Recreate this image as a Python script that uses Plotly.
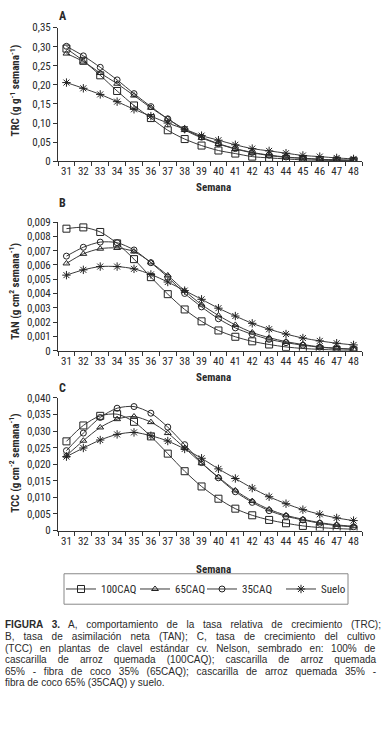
import plotly.graph_objects as go

weeks = [str(w) for w in range(31, 49)]
series_names = ["100CAQ", "65CAQ", "35CAQ", "Suelo"]

trc_100 = [0.295, 0.263, 0.225, 0.184, 0.146, 0.113, 0.081, 0.058, 0.041, 0.028, 0.020, 0.012, 0.0086, 0.006, 0.0034, 0.0026, 0.0017, 0.001]
trc_65 = [0.282, 0.261, 0.231, 0.203, 0.172, 0.140, 0.111, 0.082, 0.061, 0.045, 0.032, 0.022, 0.015, 0.010, 0.0077, 0.005, 0.0034, 0.0026]
trc_35 = [0.301, 0.276, 0.246, 0.213, 0.177, 0.143, 0.111, 0.084, 0.063, 0.046, 0.033, 0.023, 0.016, 0.011, 0.0077, 0.005, 0.0034, 0.0026]
trc_suelo = [0.206, 0.191, 0.175, 0.156, 0.136, 0.118, 0.100, 0.084, 0.067, 0.055, 0.043, 0.033, 0.027, 0.021, 0.015, 0.012, 0.0086, 0.006]

tan_100 = [0.00854, 0.00863, 0.00831, 0.00751, 0.00641, 0.00515, 0.00396, 0.00289, 0.00206, 0.00142, 0.00098, 0.00066, 0.00044, 0.00027, 0.00016, 0.0001, 0.00005, 0.00003]
tan_65 = [0.00611, 0.00678, 0.00714, 0.00719, 0.00694, 0.00618, 0.00527, 0.00419, 0.00323, 0.00247, 0.00181, 0.00128, 0.00092, 0.00064, 0.00044, 0.00027, 0.00018, 0.00011]
tan_35 = [0.00662, 0.00724, 0.0076, 0.00756, 0.00705, 0.00616, 0.00515, 0.00401, 0.00307, 0.00224, 0.0016, 0.00115, 0.0008, 0.00057, 0.00039, 0.00025, 0.00016, 0.00011]
tan_suelo = [0.00529, 0.00566, 0.00589, 0.00589, 0.00573, 0.00534, 0.00481, 0.00421, 0.0036, 0.00298, 0.00243, 0.00192, 0.00151, 0.00117, 0.00089, 0.00069, 0.00053, 0.00041]

tcc_100 = [0.0269, 0.0317, 0.0346, 0.0351, 0.0328, 0.0284, 0.0232, 0.0179, 0.0133, 0.0096, 0.0066, 0.0046, 0.0032, 0.0022, 0.0014, 0.0009, 0.0006, 0.0004]
tcc_65 = [0.0226, 0.0271, 0.0311, 0.0336, 0.0344, 0.0327, 0.0294, 0.0249, 0.0203, 0.0161, 0.0121, 0.0089, 0.0064, 0.0046, 0.0034, 0.0024, 0.0017, 0.0013]
tcc_35 = [0.0241, 0.0294, 0.0341, 0.0369, 0.0374, 0.0354, 0.0312, 0.0259, 0.0205, 0.0159, 0.0117, 0.0085, 0.006, 0.0043, 0.0032, 0.0022, 0.0015, 0.0011]
tcc_suelo = [0.0223, 0.0249, 0.0273, 0.029, 0.0296, 0.0286, 0.027, 0.0246, 0.0218, 0.0186, 0.0157, 0.0128, 0.0102, 0.0081, 0.0063, 0.0049, 0.0038, 0.003]

trc_ticks = [0, 0.05, 0.10, 0.15, 0.20, 0.25, 0.30, 0.35]
trc_ticktext = ["0", "0,05", "0,10", "0,15", "0,20", "0,25", "0,30", "0,35"]
tan_ticks = [0, 0.001, 0.002, 0.003, 0.004, 0.005, 0.006, 0.007, 0.008, 0.009]
tan_ticktext = ["0", "0,001", "0,002", "0,003", "0,004", "0,005", "0,006", "0,007", "0,008", "0,009"]
tcc_ticks = [0, 0.005, 0.010, 0.015, 0.020, 0.025, 0.030, 0.035, 0.040]
tcc_ticktext = ["0", "0,005", "0,010", "0,015", "0,020", "0,025", "0,030", "0,035", "0,040"]

caption_bold = "FIGURA 3."
caption_lines = [
    " A, comportamiento de la tasa relativa de crecimiento (TRC);",
    "B, tasa de asimilación neta (TAN); C, tasa de crecimiento del cultivo",
    "(TCC) en plantas de clavel estándar cv. Nelson, sembrado en: 100% de",
    "cascarilla de arroz quemada (100CAQ); cascarilla de arroz quemada",
    "65% - fibra de coco 35% (65CAQ); cascarilla de arroz quemada 35% -",
    "fibra de coco 65% (35CAQ) y suelo.",
]

W, H = 388, 734
FONT = "Liberation Sans Narrow, Arial Narrow, Roboto Condensed, Liberation Sans, sans-serif"
CAPFONT = "Liberation Sans, Arial, Helvetica, sans-serif"
TXT = "#2a2a2a"

markers = {
    "100CAQ": dict(symbol="square-open", size=7),
    "65CAQ": dict(symbol="triangle-up-open", size=6),
    "35CAQ": dict(symbol="circle-open", size=6),
    "Suelo": dict(symbol="asterisk-open", size=7),
}
legend_w = {"100CAQ": 29, "65CAQ": 22, "35CAQ": 34, "Suelo": 24}

panels = [
    (dict(zip(series_names, [trc_100, trc_65, trc_35, trc_suelo])), (22, 158), 0.35, trc_ticks, trc_ticktext),
    (dict(zip(series_names, [tan_100, tan_65, tan_35, tan_suelo])), (220, 351), 0.009, tan_ticks, tan_ticktext),
    (dict(zip(series_names, [tcc_100, tcc_65, tcc_35, tcc_suelo])), (399, 534), 0.040, tcc_ticks, tcc_ticktext),
]

fig = go.Figure()
layout = {}
x0, x1 = 58 / W, 362 / W

for i, (data, (ytop, ybot), ymax, tv, tt) in enumerate(panels):
    n = "" if i == 0 else str(i + 1)
    for name in series_names:
        fig.add_trace(go.Scatter(
            x=weeks, y=data[name], name=name, mode="lines+markers",
            xaxis="x" + n, yaxis="y" + n,
            line=dict(color="#3a3a3a", width=1, shape="spline", smoothing=0.8),
            marker=dict(color="#222", line=dict(color="#222", width=1), **markers[name]),
            showlegend=(i == 2), legendrank=series_names.index(name),
            legendwidth=legend_w[name],
        ))
    layout["xaxis" + n] = dict(
        domain=[x0, x1], anchor="y" + n, type="category", range=[-0.5, 17.5],
        tickson="boundaries", ticks="outside", ticklen=4, tickcolor="#333", tickangle=0,
        showline=True, linecolor="#333", linewidth=1, showgrid=False, zeroline=False,
        tickfont=dict(family=FONT, size=11, color=TXT),
    )
    layout["yaxis" + n] = dict(
        domain=[(H - ybot) / H, (H - ytop) / H], anchor="x" + n, range=[0, ymax],
        tickvals=tv, ticktext=tt, ticks="outside", ticklen=4, tickcolor="#333",
        showline=True, linecolor="#333", linewidth=1, showgrid=False, zeroline=False,
        tickfont=dict(family=FONT, size=11, color=TXT),
    )

fig.update_layout(**layout)

ann = []
def add_text(text, x, y, size=11, bold=False, angle=0, xanchor="center", family=FONT):
    ann.append(dict(text=("<b>%s</b>" % text) if bold else text, x=x / W, y=(H - y) / H,
                    xref="paper", yref="paper", showarrow=False, xanchor=xanchor, yanchor="middle",
                    textangle=angle, borderpad=0,
                    font=dict(family=family, size=size, color=TXT)))

add_text("A", 58, 10, 12, True, xanchor="left")
add_text("B", 58, 201, 12, True, xanchor="left")
add_text("C", 58, 389, 12, True, xanchor="left")
for y in (185, 378, 574):
    add_text("Semana", 213, y, 11, True)
add_text("TRC (g g<sup>-1</sup> semana<sup>-1</sup>)", 15, 86, 11, True, -90)
add_text("TAN (g cm<sup>2</sup> semana<sup>-1</sup>)", 15, 291, 11, True, -90)
add_text("TCC (g cm<sup>-2</sup> semana<sup>-1</sup>)", 15, 466, 11, True, -90)

# Helvetica/Arial advance widths (per 1000 em) to justify the caption lines
AW = {' ': 278, '%': 889, '(': 333, ')': 333, ',': 278, '-': 333, '.': 278, ':': 278, ';': 278,
      'A': 667, 'B': 667, 'C': 722, 'D': 722, 'E': 667, 'F': 611, 'G': 778, 'I': 278, 'L': 556,
      'N': 722, 'Q': 778, 'R': 722, 'S': 667, 'T': 611, 'U': 722,
      'a': 556, 'b': 556, 'c': 500, 'd': 556, 'e': 556, 'f': 278, 'g': 556, 'h': 556, 'i': 222,
      'j': 222, 'k': 500, 'l': 222, 'm': 833, 'n': 556, 'o': 556, 'p': 556, 'q': 556, 'r': 333,
      's': 500, 't': 278, 'u': 556, 'v': 500, 'w': 722, 'x': 500, 'y': 500, 'z': 500,
      'á': 556, 'é': 556, 'ó': 556}
AWB = {'F': 611, 'I': 278, 'G': 778, 'U': 722, 'R': 722, 'A': 722, ' ': 278, '3': 556, '.': 278}
def width(s, tbl, size):
    return sum(tbl.get(c, 556) for c in s) * size / 1000.0

CAP_SIZE = 10
CAP_X0, CAP_X1 = 4, 375
for k, line in enumerate(caption_lines):
    natural = width(line, AW, CAP_SIZE)
    prefix = ""
    if k == 0:
        natural += width(caption_bold, AWB, CAP_SIZE)
        prefix = "<b>%s</b>" % caption_bold
    nsp = line.count(" ")
    body = line
    if k < len(caption_lines) - 1 and nsp:
        ws = max(0.0, (CAP_X1 - CAP_X0 - natural) / nsp)
        if k == 0:
            body = '<span style="word-spacing:%.2fpx">%s</span>' % (ws, line)
            prefix = '<span style="word-spacing:%.2fpx"><b>%s</b></span>' % (ws, caption_bold)
        else:
            body = '<span style="word-spacing:%.2fpx">%s</span>' % (ws, line)
    add_text(prefix + body, CAP_X0, 630 + k * 11.8, CAP_SIZE, False, xanchor="left", family=CAPFONT)

fig.add_shape(type="rect", xref="paper", yref="paper",
              x0=64 / W, x1=348 / W, y0=(H - 609) / H, y1=(H - 578) / H,
              line=dict(color="#888", width=1), fillcolor="rgba(0,0,0,0)")

fig.update_layout(
    width=W, height=H, margin=dict(l=0, r=0, t=0, b=0),
    paper_bgcolor="white", plot_bgcolor="white",
    annotations=ann,
    showlegend=True,
    legend=dict(orientation="h", x=61 / W, y=(H - 593.5) / H, xanchor="left", yanchor="middle",
                bgcolor="rgba(0,0,0,0)", borderwidth=0,
                font=dict(family=FONT, size=11, color=TXT),
                traceorder="normal", itemwidth=30),
)

fig.write_html("out.html", config={"displayModeBar": False},
               post_script="document.body.style.margin='0px';document.body.style.overflow='hidden';")
